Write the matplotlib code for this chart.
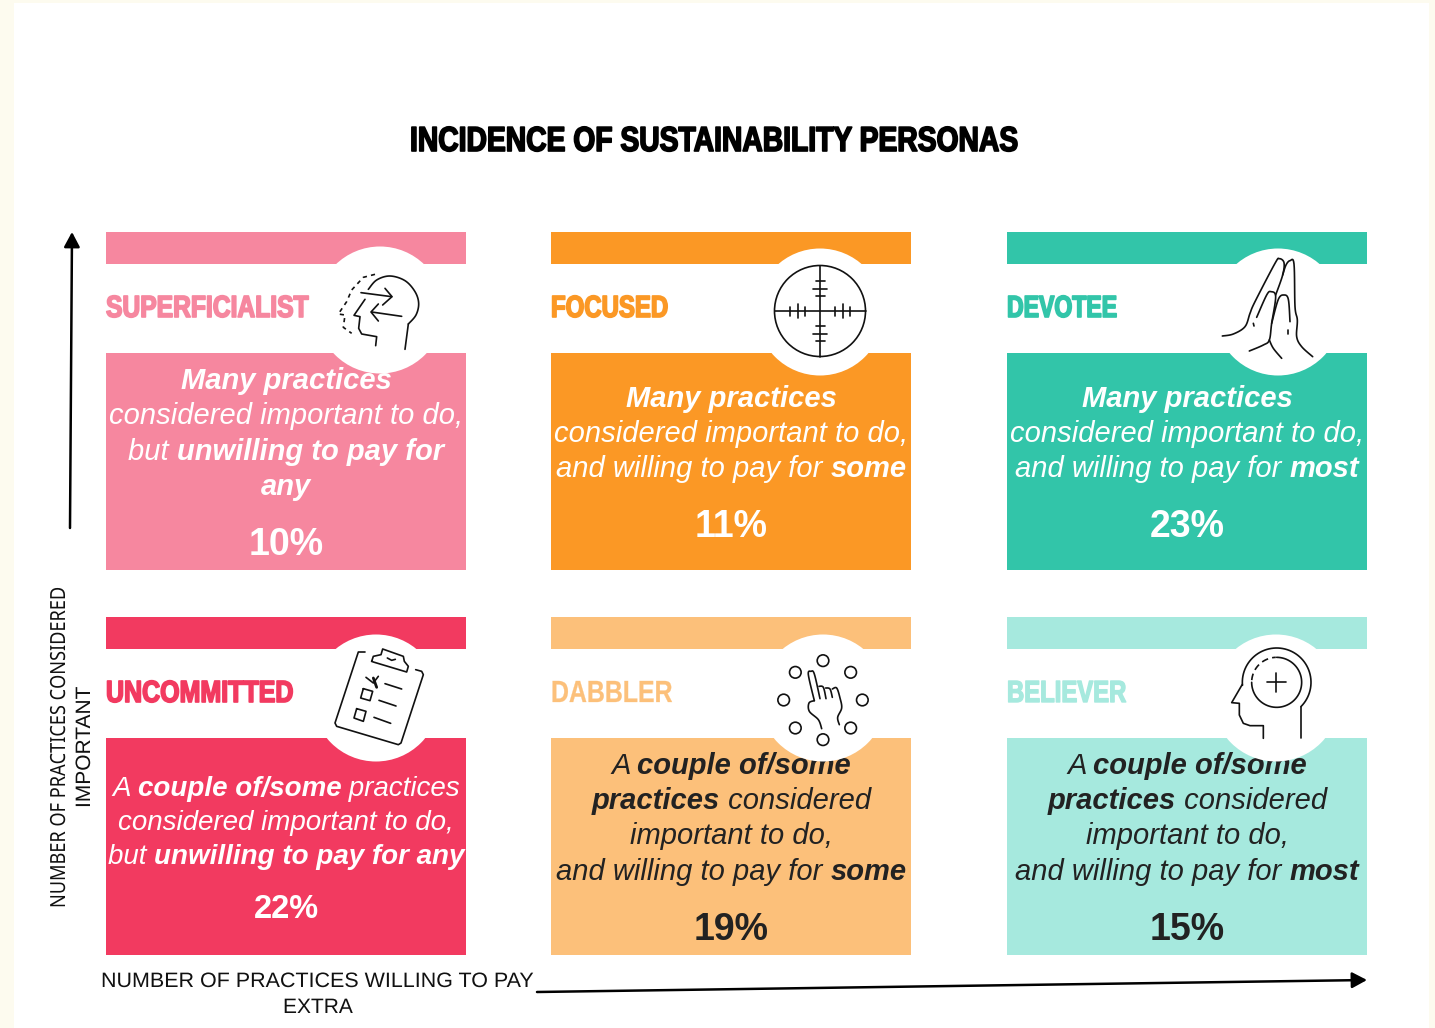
import numpy as np
import matplotlib
matplotlib.use('Agg')
import matplotlib.pyplot as plt
from matplotlib.patches import Rectangle, Circle
from matplotlib.transforms import Affine2D
import matplotlib.patheffects as pe

names = ['SUPERFICIALIST', 'FOCUSED', 'DEVOTEE', 'UNCOMMITTED', 'DABBLER', 'BELIEVER']
shares = ['10%', '11%', '23%', '22%', '19%', '15%']
colors = ['#F6879F', '#FB9825', '#32C5A9', '#F23A60', '#FCC07A', '#A6E9DE']
text_colors = ['white', 'white', 'white', 'white', '#222222', '#222222']
descriptions = [
    [[('Many practices', 1)], [('considered important to do,', 0)], [('but ', 0), ('unwilling to pay for', 1)], [('any', 1)]],
    [[('Many practices', 1)], [('considered important to do,', 0)], [('and willing to pay for ', 0), ('some', 1)]],
    [[('Many practices', 1)], [('considered important to do,', 0)], [('and willing to pay for ', 0), ('most', 1)]],
    [[('A ', 0), ('couple of/some', 1), (' practices', 0)], [('considered important to do,', 0)], [('but ', 0), ('unwilling to pay for any', 1)]],
    [[('A ', 0), ('couple of/some', 1)], [('practices', 1), (' considered', 0)], [('important to do,', 0)], [('and willing to pay for ', 0), ('some', 1)]],
    [[('A ', 0), ('couple of/some', 1)], [('practices', 1), (' considered', 0)], [('important to do,', 0)], [('and willing to pay for ', 0), ('most', 1)]],
]

W, H = 1435, 1028
SANS = 'Liberation Sans'

fig = plt.figure(figsize=(W / 100, H / 100), dpi=100, facecolor='#FDFBEF')
ax = fig.add_axes([0, 0, 1, 1])
ax.set_xlim(0, W)
ax.set_ylim(H, 0)
ax.axis('off')
renderer = fig.canvas.get_renderer()

ax.add_patch(Rectangle((14, 3), 1415, H, fc='white', ec='none', zorder=0))

lefts = [106, 551, 1007, 106, 551, 1007]
tops = [232, 232, 232, 617, 617, 617]
circle_x = [380, 820, 1278, 376, 823, 1276]
circle_y = [310, 312, 312, 698, 698, 698]
baselines = [[389, 424, 460, 495], [407, 442, 477], [407, 442, 477],
             [796, 830, 864], [774, 809, 844, 880], [774, 809, 844, 880]]
share_y = [555, 537, 537, 918, 940, 940]
body_size = [21, 21, 21, 20, 21, 21]
share_size = [27, 27, 27, 23.5, 27, 27]
head_width = [202, 117, 110, 187, 121, 119]
head_stroke = [1.2, 1.2, 1.2, 1.2, 0.2, 1.0]


class Squeeze(pe.AbstractPathEffect):
    # narrows a text along its run, there is no condensed face installed
    def __init__(self, k, stroke=0, color='black', axis=0):
        super().__init__()
        self.k, self.stroke, self.color, self.axis = k, stroke, color, axis

    def draw_path(self, renderer, gc, tpath, affine, rgbFace=None):
        m = affine.get_matrix()
        if self.axis == 0:
            a = affine + Affine2D().translate(-m[0, 2], 0).scale(self.k, 1).translate(m[0, 2], 0)
        else:
            a = affine + Affine2D().translate(0, -m[1, 2]).scale(1, self.k).translate(0, m[1, 2])
        gc0 = renderer.new_gc()
        gc0.copy_properties(gc)
        gc0.set_linewidth(self.stroke)
        gc0.set_foreground(self.color)
        renderer.draw_path(gc0, tpath, a, rgbFace)
        gc0.restore()


def width(s, **kw):
    t = ax.text(0, 0, s + '|', **kw)
    a = t.get_window_extent(renderer).width
    t.set_text('|')
    b = t.get_window_extent(renderer).width
    t.remove()
    return a - b


def fit(x, y, s, target, stroke=0, color='black', rotation=0, zorder=5, **kw):
    k = target / width(s, **kw)
    ax.text(x, y, s, color=color, ha='left', va='baseline', rotation=rotation, rotation_mode='anchor', zorder=zorder,
            path_effects=[Squeeze(k, stroke, color, 1 if rotation else 0)], **kw)


def rich(cx, y, runs, size, color):
    kws = [dict(family=SANS, style='italic', fontsize=size, weight='bold' if b else 'normal') for _, b in runs]
    ws = [width(r[0], **k) for r, k in zip(runs, kws)]
    x = cx - sum(ws) / 2
    for (s, _), k, w in zip(runs, kws, ws):
        ax.text(x, y, s, color=color, ha='left', va='baseline', zorder=3, **k)
        x += w


for i in range(6):
    x, top = lefts[i], tops[i]
    c = colors[i]
    ax.add_patch(Rectangle((x, top), 360, 32, fc=c, ec='none', zorder=1))
    ax.add_patch(Rectangle((x, top + 121), 360, 217, fc=c, ec='none', zorder=1))
    for y, runs in zip(baselines[i], descriptions[i]):
        rich(x + 180, y, runs, body_size[i], text_colors[i])
    ax.text(x + 180, share_y[i], shares[i], family=SANS, weight='bold', fontsize=share_size[i],
            color=text_colors[i], ha='center', va='baseline', zorder=3)
    ax.add_patch(Circle((circle_x[i], circle_y[i]), 63.5, fc='white', ec='none', zorder=4))
    fit(x, top + 85, names[i], head_width[i], head_stroke[i], c, family=SANS, weight='bold', fontsize=22)


def spline(p, n=8):
    # catmull-rom, only to round the hand-drawn icon outlines
    p = np.vstack([p[0], p, p[-1]])
    out = []
    for a, b, c, d in zip(p[:-3], p[1:-2], p[2:-1], p[3:]):
        for t in np.linspace(0, 1, n, endpoint=False):
            out.append(0.5 * (2 * b + (c - a) * t + (2 * a - 5 * b + 4 * c - d) * t ** 2 + (3 * b - a - 3 * c + d) * t ** 3))
    out.append(p[-2])
    return np.array(out)


def pl(pts, ox, oy, sx=3, sy=3, lw=1.2, ls='-', smooth=False):
    p = np.array(pts, dtype=float)
    if smooth:
        p = spline(p)
    ax.plot(ox + p[:, 0] / sx, oy + p[:, 1] / sy, color='#111111', lw=lw, ls=ls, zorder=6,
            solid_capstyle='round', solid_joinstyle='round')


def arc(cx, cy, r, a0, a1):
    t = np.radians(np.linspace(a0, a1, 60))
    return np.column_stack([cx + r * np.cos(t), cy + r * np.sin(t)])


# superficialist head
o = (310, 240)
pl([(175, 148), (200, 120), (240, 108), (285, 122), (315, 155), (326, 190), (318, 225), (295, 252)], *o, smooth=True)
pl([(295, 252), (285, 328)], *o)
pl([(165, 178), (132, 226), (150, 230), (146, 265), (155, 282), (200, 290), (197, 317)], *o)
pl([(153, 158), (245, 170)], *o)
pl([(225, 145), (246, 170), (218, 195)], *o)
pl([(275, 229), (185, 216)], *o)
pl([(205, 192), (183, 216), (205, 243)], *o)
pl([(195, 103), (160, 112), (125, 150), (110, 185), (85, 222), (105, 225), (100, 262), (125, 280)], *o, ls=(0, (2.5, 2.5)))

# focused target
ax.add_patch(Circle((820, 311), 45.5, fc='none', ec='#111111', lw=1.2, zorder=6))
pl([(774.5, 311), (865.5, 311)], 0, 0, 1, 1)
pl([(820, 265.5), (820, 356.5)], 0, 0, 1, 1)
for d, n in zip([15, 22.5, 30], [4.5, 7, 4.5]):
    pl([(820 - n, 311 - d), (820 + n, 311 - d)], 0, 0, 1, 1)
    pl([(820 - n, 311 + d), (820 + n, 311 + d)], 0, 0, 1, 1)
    pl([(820 - d, 311 - n), (820 - d, 311 + n)], 0, 0, 1, 1)
    pl([(820 + d, 311 - n), (820 + d, 311 + n)], 0, 0, 1, 1)

# devotee hands
o = (1210, 240)
pl([(37, 288), (70, 282), (105, 260), (120, 220), (135, 185), (195, 70), (208, 56), (222, 68), (218, 105), (197, 165)], *o, smooth=True)
pl([(218, 105), (228, 75), (240, 62), (252, 72), (255, 200), (262, 240), (260, 290), (275, 320), (308, 350)], *o, smooth=True)
pl([(140, 232), (170, 165), (183, 155), (197, 170), (185, 250), (178, 300), (160, 315), (118, 333)], *o, smooth=True)
pl([(185, 250), (205, 178), (222, 165), (235, 178), (240, 245)], *o, smooth=True)
pl([(178, 300), (190, 325), (215, 355)], *o, smooth=True)
pl([(235, 270), (235, 282)], *o)
pl([(130, 250), (132, 258)], *o)

# uncommitted clipboard
o = (310, 628)
pl([(165, 72), (145, 72), (75, 285), (80, 295), (265, 350), (273, 345), (340, 140), (335, 130), (317, 125)], *o)
pl([(185, 100), (190, 85), (213, 80), (218, 63), (280, 85), (283, 100), (295, 115), (290, 132), (190, 102), (185, 100)], *o)
pl([(232, 90), (245, 97), (256, 94)], *o)
pl([(168, 148), (190, 165), (205, 145)], *o)
pl([(190, 150), (200, 178)], *o, lw=2)
pl([(225, 167), (275, 183)], *o)
pl([(207, 217), (258, 234)], *o)
pl([(192, 268), (242, 286)], *o)
pl([(160, 182), (188, 190), (180, 218), (152, 210), (160, 182)], *o)
pl([(140, 242), (168, 250), (160, 280), (132, 270), (140, 242)], *o)

# dabbler hand and dots
o = (755, 628)
for zx, zy in [(204, 98), (287, 133), (322, 216), (287, 300), (204, 335), (121, 300), (86, 216), (121, 133)]:
    ax.add_patch(Circle((o[0] + zx / 3, o[1] + zy / 3), 5.8, fc='none', ec='#111111', lw=1.2, zorder=6))
pl([(178, 218), (160, 140), (168, 130), (178, 138), (195, 212)], *o, smooth=True)
pl([(192, 175), (205, 178), (213, 212)], *o, smooth=True)
pl([(212, 180), (225, 183), (232, 208)], *o, smooth=True)
pl([(232, 183), (245, 180), (255, 210), (260, 240), (248, 268), (253, 290)], *o, smooth=True)
pl([(178, 218), (162, 225), (163, 250), (190, 275), (200, 302)], *o, smooth=True)

# believer head
o = (1200, 625)
pl(arc(230, 172, 103, 175, 405), *o)
pl(arc(230, 172, 75, -90, 180), *o)
pl(arc(230, 172, 75, 185, 268), *o, ls=(0, (4, 2.5)))
pl([(200, 172), (258, 172)], *o)
pl([(229, 143), (229, 202)], *o)
pl([(127, 178), (95, 233), (118, 235), (118, 270), (130, 295), (150, 302), (190, 302), (190, 340)], *o)
pl([(302, 245), (302, 340)], *o)

fit(410, 151, 'INCIDENCE OF SUSTAINABILITY PERSONAS', 610, 1.2, 'black', family=SANS, weight='bold', fontsize=25)

fit(65, 908, 'NUMBER OF PRACTICES CONSIDERED', 321, 0, '#111111', rotation=90, family='Noto Sans', fontsize=15)
fit(90, 808, 'IMPORTANT', 122, 0, '#111111', rotation=90, family=SANS, fontsize=15)
fit(101, 987, 'NUMBER OF PRACTICES WILLING TO PAY', 434, 0, '#111111', family=SANS, fontsize=15)
fit(283, 1013, 'EXTRA', 70, 0, '#111111', family=SANS, fontsize=15)

head = dict(arrowstyle='-|>,head_length=0.45,head_width=0.24', mutation_scale=20, color='black', lw=1.8, shrinkA=0, shrinkB=0)
ax.annotate('', xy=(72, 232), xytext=(70, 528), zorder=2, arrowprops=head)
ax.annotate('', xy=(1367, 980), xytext=(537, 992), zorder=2, arrowprops=head)

fig.savefig('out.png', dpi=100, facecolor=fig.get_facecolor())
